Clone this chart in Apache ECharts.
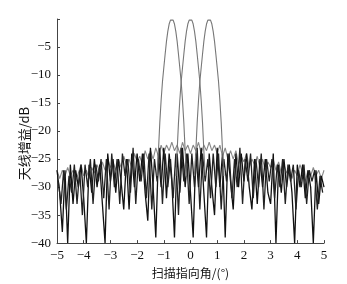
<!DOCTYPE html>
<html><head><meta charset="utf-8">
<script src="https://cdn.jsdelivr.net/npm/echarts@6/dist/echarts.min.js"></script>
<style>html,body{margin:0;padding:0;background:#fff}#c{width:347px;height:284px}</style>
</head><body><div id="c"></div>
<script>
// Beam pointing angles (deg)
const beamCenters = [-0.7, 0, 0.7];
// Main lobe shape: angle offset from beam centre and gain (dB)
const lobeOffsets = [-0.55,-0.5,-0.45,-0.4,-0.35,-0.3,-0.25,-0.2,-0.15,-0.1,-0.05,0,0.05,0.1,0.15,0.2,0.25,0.3,0.35,0.4,0.45,0.5,0.55];
const lobeGain = [-28,-23.5,-18.5,-14.5,-11.2,-8.7,-6.3,-4.0,-2.2,-0.9,-0.2,0,-0.2,-0.9,-2.2,-4.0,-6.3,-8.7,-11.2,-14.5,-18.5,-23.5,-28];
// Sidelobe traces sampled every 0.1 deg
const sideStartA = -5.0, sideStartB = -4.95, sideStep = 0.1;
const sideA = [-27,-31,-38,-27,-40,-26,-33,-27,-30,-26,-32,-40,-26,-31,-25,-30,-26,-33,-40,-24,
-29,-25,-31,-25,-29,-34,-25,-34,-24,-30,-24,-29,-24,-31,-36,-23,-30,-39,-24,-30,
-23,-32,-24,-29,-39,-24,-31,-23,-30,-24,-31,-39,-24,-30,-23,-31,-39,-24,-30,-35,
-23,-30,-24,-39,-24,-29,-34,-24,-30,-24,-29,-24,-30,-34,-25,-33,-25,-30,-25,-31,
-33,-24,-40,-26,-31,-25,-30,-26,-31,-40,-26,-30,-26,-32,-27,-30,-40,-27,-33,-28,-30];
const sideB = [-29,-33,-27,-34,-28,-31,-26,-33,-27,-35,-26,-30,-25,-33,-26,-29,-25,-32,-25,-34,
-24,-30,-25,-33,-24,-28,-25,-31,-23,-33,-25,-29,-24,-32,-24,-34,-25,-29,-23,-33,
-24,-30,-25,-32,-24,-35,-23,-29,-24,-33,-24,-30,-23,-34,-24,-29,-25,-32,-24,-30,
-24,-34,-25,-29,-24,-32,-25,-30,-23,-33,-25,-29,-24,-32,-25,-30,-24,-34,-25,-29,
-25,-32,-26,-30,-25,-33,-26,-29,-26,-34,-27,-30,-26,-33,-27,-29,-27,-34,-28,-31];
const sideG = [-27,-28.5,-27,-28,-26.5,-28,-27,-29,-27.5,-26,-28,-27,-28.5,-26.5,-27.5,-26,-27.5,-25.5,-27,-25,
-26.5,-25.5,-27,-25,-26.5,-24.5,-26,-25,-26.5,-24,-25.5,-24.5,-26,-23.5,-25,-23.5,-25,-23,-24.5,-22.5,
-24,-22.5,-23.5,-22,-23.5,-22.5,-24,-22,-23.5,-22.5,-24,-22.5,-23.5,-22,-24,-22.5,-23.5,-22,-23.5,-22.5,
-24,-22.5,-24.5,-23,-25,-23.5,-25,-23.5,-26,-24.5,-25.5,-24,-26.5,-25,-26,-24.5,-26.5,-25,-27,-25.5,
-26.5,-25,-27,-25.5,-27.5,-26,-27.5,-26.5,-28.5,-27,-28,-26,-27.5,-29,-27,-28,-26.5,-28,-27,-28.5,-27];
const xTicks = [-5,-4,-3,-2,-1,0,1,2,3,4,5];
const yTicks = [-40,-35,-30,-25,-20,-15,-10,-5];

function pairs(start, vals){ return vals.map((v,i)=>[+(start+i*sideStep).toFixed(2), v]); }
const fmt = v => (v<0?'\u2212':'') + Math.abs(v);
const series = [];
series.push({type:'line', data:pairs(sideStartA, sideG), color:'#888', lineStyle:{width:1.1}});
series.push({type:'line', data:pairs(sideStartA, sideA), color:'#111', lineStyle:{width:1.3}});
series.push({type:'line', data:pairs(sideStartB, sideB), color:'#222', lineStyle:{width:1.3}});
beamCenters.forEach(c=>{
  series.push({type:'line', data:lobeOffsets.map((o,i)=>[+(c+o).toFixed(3), lobeGain[i]]), color:'#777', lineStyle:{width:1.1}});
});
series.forEach(s=>{ s.showSymbol=false; s.symbol='none'; s.animation=false; s.z=2; });

const chart = echarts.init(document.getElementById('c'));
chart.setOption({
  animation:false,
  grid:{left:57,right:23,top:19,bottom:36},
  xAxis:{type:'value',min:-5,max:5,interval:1,
    axisLine:{onZero:false,lineStyle:{color:'#444'}},
    axisTick:{inside:true,length:3,lineStyle:{color:'#444'}},
    splitLine:{show:false},
    axisLabel:{color:'#111',fontFamily:'Liberation Serif',fontSize:13,margin:6,
      formatter:v=> xTicks.indexOf(v)>=0 ? fmt(v) : ''},
    name:'扫描指向角/(°)',nameLocation:'middle',nameGap:22,
    nameTextStyle:{color:'#111',fontFamily:'Noto Sans CJK SC',fontSize:12}},
  yAxis:{type:'value',min:-40,max:0,interval:5,
    axisLine:{show:true,onZero:false,lineStyle:{color:'#444'}},
    axisTick:{show:true,inside:true,length:3,lineStyle:{color:'#444'}},
    splitLine:{show:false},
    axisLabel:{color:'#111',fontFamily:'Liberation Serif',fontSize:13,margin:6,
      formatter:v=> yTicks.indexOf(v)>=0 ? fmt(v) : ''}},
  graphic:[{type:'text',left:18,top:107,rotation:Math.PI/2,
    style:{text:'天线增益/dB',fill:'#111',font:'13px "Noto Sans CJK SC"'}}],
  series:series
});
</script></body></html>
